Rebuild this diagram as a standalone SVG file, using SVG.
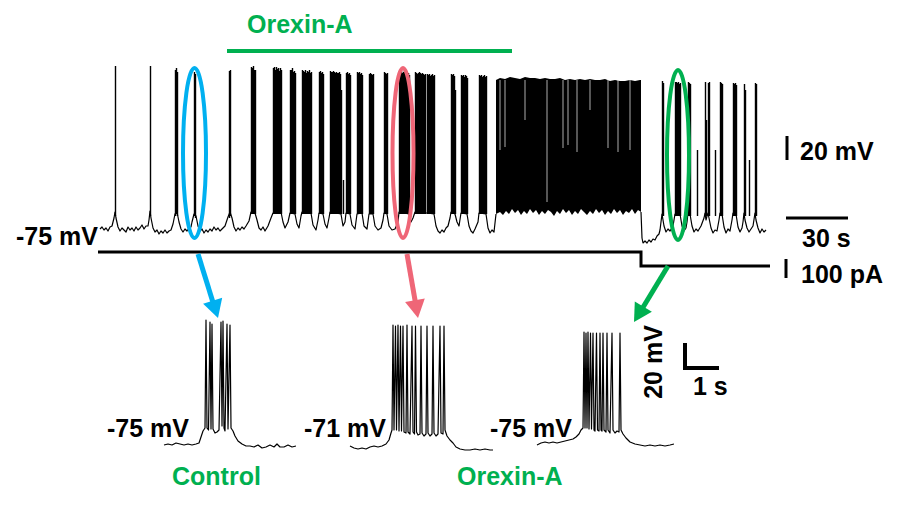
<svg xmlns="http://www.w3.org/2000/svg" width="900" height="506" viewBox="0 0 900 506">
<style>
.lbl{font-family:"Liberation Sans",Arial,sans-serif;font-weight:bold;font-size:25px;fill:#000}
.grn{fill:#00B050}
.tr{fill:none;stroke:#000;stroke-width:1.2;stroke-linejoin:round}
.sp{fill:none;stroke:#000;stroke-width:1.4}
.bar{stroke:#000;stroke-width:3;fill:none}
</style>
<rect width="900" height="506" fill="#fff"/>

<g id="orexin-bar">
<text class="lbl grn" x="247" y="33">Orexin-A</text>
<line x1="227" y1="51" x2="512" y2="51" stroke="#00B050" stroke-width="4"/>
</g>

<g id="main-trace">
<path class="tr" d="M100,229 L102,227 104,230 106,228 108,231 110,227 112,226 114,218 115,212 116,218 118,227 120,231 122,228 124,230 126,232 128,227 130,230 132,228 134,231 136,227 138,230 140,228 142,225 144,229 146,226 148,226 149,220 150,211 151,218 153,228 155,232 157,230 159,234 161,231 163,233 165,230 167,233 169,231 171,230 173,224 175,214 177,212 179,222 181,229 183,232 185,229 187,231 189,228 191,227 192,222 194,214 196,216 198,226 200,231 202,229 204,233 206,230 208,232 210,229 212,231 214,227 216,230 218,228 220,231 222,229 224,227 225,226 228,217 230,212 232,218 234,227 236,231 238,228 240,230 242,227 244,229 246,226 249,221 251,212 255,213 257,220 259,228 261,230 263,227 265,231 268,226 271,218 273,213 281,212 283,222 285,228 288,222 290,213 295,214 297,224 299,228 301,216 302,212 311,213 313,225 316,230 318,220 319,213 323,214 325,224 327,228 329,218 330,212 341,214 343,226 345,222 346,213 350,214 352,225 355,229 357,214 362,213 364,226 367,229 369,214 373,214 375,226 378,230 381,228 383,220 384,213 387,214 389,226 392,230 395,229 398,222 399,212 409,214 411,222 413,218 415,212 425,213 427,213 434,214 436,226 438,231 440,233 442,230 444,232 446,228 448,226 450,218 451,212 455,214 457,222 459,226 461,213 467,214 469,226 471,231 473,233 475,229 478,222 479,213 486,214 488,228 490,233 492,230 494,232 496,214"/>
<path class="tr" d="M641,212 L642,238 643,243 645,241 647,243 649,240 651,242 653,239 655,240 657,236 659,234 660,230 662,214 664,226 666,232 668,229 670,231 673,226 675,214 680,214 682,226 684,231 686,228 687,222 688,213 690,214 692,226 694,232 696,229 698,231 701,226 704,218 705,213 706,220 707,216 708,213 709,218 711,228 713,233 715,230 717,231 719,220 720,213 722,214 724,227 726,233 728,229 730,231 732,220 733,213 736,214 738,227 740,232 742,228 743,222 744,213 745,220 747,228 749,232 751,229 753,226 755,213 756,220 758,228 760,233 762,229 764,232 766,230"/>
<g transform="translate(0.5,0)">
<path class="sp" d="M115,216V66 M150,216V66 M175,216V70 M176,214V68 M177,216V72 M194,216V72 M195,218V74 M229,218V71 M230,216V70
M251,214V67 M252,214V68 M253,214V66 M254,214V70 M255,214V70
M273,214V68 M274,214V67 M275,214V70 M276,214V67 M277,214V69 M278,214V68 M279,214V71 M280,214V68 M281,214V70
M290,214V70 M291,214V70 M292,214V68 M293,214V72 M294,214V71 M295,214V73
M302,214V70 M303,214V71 M304,214V72 M305,214V70 M306,214V73 M307,214V71 M308,214V72 M309,214V70 M310,214V73 M311,214V72
M319,214V72 M320,214V71 M321,214V73 M322,214V72 M323,214V74
M330,214V71 M331,214V72 M332,214V72 M333,214V71 M334,214V72 M335,214V73 M336,214V72 M337,214V73 M338,214V73 M339,214V72 M340,214V74 M341,214V90
M346,214V73 M347,214V72 M348,214V74 M349,214V73 M350,214V75
M357,214V72 M358,214V73 M359,214V72 M360,214V74 M361,214V73 M362,214V75
M369,214V74 M370,214V73 M371,214V74 M372,214V75 M373,214V74
M384,214V72 M385,214V73 M386,214V74 M387,214V73
M399,214V71 M400,214V72 M401,214V71 M402,214V73 M403,214V72 M404,214V71 M405,214V73 M406,214V72 M407,214V74 M408,214V73 M409,214V75
M415,214V72 M416,214V73 M417,214V74 M418,214V73 M419,214V72 M420,214V73 M421,214V74 M422,214V73 M423,214V74 M424,214V75 M425,214V74
M427,214V74 M428,214V75 M429,214V74 M430,214V76 M431,214V75 M432,214V74 M433,214V76 M434,214V75
M451,214V74 M452,214V75 M453,214V74 M454,214V76 M455,214V90
M461,214V75 M462,214V76 M463,214V75 M464,214V77 M465,214V75 M466,214V76 M467,214V78
M479,214V75 M480,214V76 M481,214V75 M482,214V77 M483,214V76 M484,214V75 M485,214V77 M486,214V76
M662,216V81 M663,216V83
M675,216V82 M676,216V82 M677,216V83 M678,216V82 M679,216V84 M680,216V83
M688,216V82 M689,216V83 M690,216V84
M705,216V82 M706,216V120 M708,216V83 M709,216V82
M720,216V82 M721,216V83 M722,216V84
M733,216V83 M734,216V84 M735,216V83 M736,216V85
M744,216V84 M745,216V90
M755,216V83 M756,216V84"/>
<path class="sp" stroke="#777" stroke-width="1" d="M697,216V150 M715,216V150 M749,216V160 M343,214V180"/>
</g>
<polygon fill="#000" points="496,80 500,78 505,79 510,77 515,78 520,79 525,77 530,78 535,78 540,79 545,78 550,79 555,79 560,78 565,80 570,79 575,80 580,79 585,80 590,79 595,80 600,80 605,79 610,81 615,80 620,81 625,81 630,80 635,81 640,80 641,80 641,212 638,210 635,214 632,209 629,213 626,211 623,215 620,210 617,213 614,209 611,214 608,211 605,215 602,210 599,213 596,209 593,214 590,211 587,215 584,212 581,209 578,214 575,211 572,215 569,210 566,213 563,209 560,214 557,211 554,216 551,212 548,210 545,214 542,211 539,215 536,210 533,213 530,209 527,214 524,211 521,215 518,210 515,213 512,209 509,214 506,211 503,215 500,212 496,214"/>
<path fill="none" stroke="#fff" stroke-width="0.8" stroke-opacity="0.85" d="M500,80V150 M505,80V147 M547,80V202 M563,80V148 M568,80V145 M577,80V152 M608,80V148 M618,80V152 M630,80V150 M525,80V120 M590,80V110"/>
</g>

<g id="current-trace">
<path fill="none" stroke="#000" stroke-width="3" d="M98,252 H641 V266 H770"/>
</g>

<g id="ellipses" fill="none" stroke-width="4">
<ellipse id="ell-control" cx="194.5" cy="153" rx="11.5" ry="85" stroke="#00B0F0"/>
<ellipse id="ell-orexin" cx="403" cy="153" rx="10.5" ry="85" stroke="#EF6677"/>
<ellipse id="ell-wash" cx="678" cy="155" rx="11" ry="85" stroke="#00B050"/>
</g>

<g id="connectors">
<line x1="198" y1="254" x2="213.5" y2="304" stroke="#00B0F0" stroke-width="5"/>
<polygon points="218,318 222.2,297.8 203.1,303.8" fill="#00B0F0"/>
<line x1="407" y1="254" x2="415.5" y2="303" stroke="#EF6677" stroke-width="5"/>
<polygon points="418,318 424.8,298.6 405.1,302.0" fill="#EF6677"/>
<line x1="668" y1="266" x2="642" y2="309" stroke="#00B050" stroke-width="5"/>
<polygon points="634,322 651.9,311.8 634.8,301.4" fill="#00B050"/>
</g>

<g id="inset-control">
<path class="tr" d="M164,445 L168,444 L172,445 L176,443 L180,444 L184,445 L188,444 L192,445 L196,444 L199,443 L201,437 L203,431 L205,428 L206,320 L207,428 L208.5,430 L210,322 L211,429 L212,324 L213,429 L215,433 L217,432 L219,430 L221,322 L222,426 L223,321 L224,428 L225,431 L227,324 L228,429 L230,325 L231,428 L233,431 L235,436 L238,441 L242,444 L246,446 L250,446 L254,447 L258,445 L262,448 L266,447 L270,445 L274,447 L277,444 L280,447 L284,447 L288,445 L292,447 L296,446"/>
<text class="lbl" x="107" y="437">-75 mV</text>
<text class="lbl grn" x="172" y="485">Control</text>
</g>

<g id="inset-orexin">
<path class="tr" d="M350,446 L354,448 L358,449 L362,448 L366,449 L370,447 L374,446 L378,447 L382,446 L386,444 L389,440 L391,433 L392,430 L393,325 L394,430 L395.5,326 L396.5,430 L398,325 L399,431 L400.5,326 L401.5,431 L403,326 L404,432 L406,433 L407,325 L408,432 L410,434 L412,326 L413,432 L414.5,434 L415.5,326 L416.5,432 L418,435 L420,434 L421,326 L422,433 L424,436 L426,434 L427,326 L428,433 L430,436 L432,434 L433,326 L434,433 L436,436 L438,434 L440,326 L441,433 L443,434 L444,326 L445,430 L447,436 L450,440 L453,443 L456,447 L460,449 L465,450 L470,450 L475,449 L480,450 L485,449 L490,450 L493,450"/>
<text class="lbl" x="304" y="437">-71 mV</text>
<text class="lbl grn" x="457" y="485">Orexin-A</text>
</g>

<g id="inset-wash">
<path class="tr" d="M537,445 L541,443 L545,442 L549,443 L553,442 L557,443 L561,442 L565,441 L569,440 L573,439 L576,437 L579,434 L581,430 L583,428 L584,332 L585,428 L586,333 L587,428 L588,332 L589,429 L590.5,333 L591.5,429 L593,333 L594,430 L595,431 L596.5,333 L597.5,430 L599,431 L600,333 L601,430 L602,431 L603,333 L604,430 L606,432 L607,333 L608,430 L610,433 L612,333 L613,430 L615,433 L617,431 L619,432 L620,333 L621,430 L623,434 L626,438 L630,442 L635,444 L640,445 L645,446 L650,445 L655,446 L660,445 L665,446 L670,445 L674,444"/>
<text class="lbl" x="490" y="437">-75 mV</text>
</g>

<g id="scalebars">
<text class="lbl" x="16" y="245">-75 mV</text>
<line class="bar" x1="787" y1="136" x2="787" y2="160"/>
<text class="lbl" x="800" y="160">20 mV</text>
<line class="bar" x1="786" y1="218" x2="848" y2="218"/>
<text class="lbl" x="802" y="247">30 s</text>
<line class="bar" x1="786" y1="259" x2="786" y2="278"/>
<text class="lbl" x="801" y="283">100 pA</text>
<path d="M685,343 V368 H719" fill="none" stroke="#000" stroke-width="4"/>
<text class="lbl" transform="translate(662,362) rotate(-90)" text-anchor="middle">20 mV</text>
<text class="lbl" x="693" y="395">1 s</text>
</g>
</svg>
